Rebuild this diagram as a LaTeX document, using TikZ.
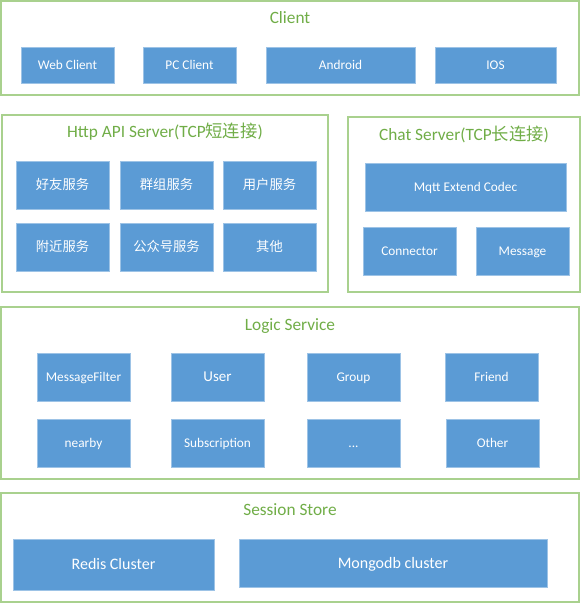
\documentclass[tikz,border=0pt]{standalone}
\usepackage{fontspec}
\setmainfont{Carlito}
\newfontfamily\cjk{Noto Sans CJK SC}
\usepackage{xcolor}
\definecolor{layerline}{HTML}{A9D18E}
\definecolor{layertext}{HTML}{70AD47}
\definecolor{boxfill}{HTML}{5B9BD5}
\definecolor{boxline}{HTML}{9DC3E6}

\tikzset{
  layer/.style={draw=layerline, line width=1.3pt, inner sep=0pt},
  layertitle/.style={text=layertext, font=\fontsize{17.3}{20}\selectfont, inner sep=0pt,
    text height=11.1pt, text depth=0pt},
  module/.style={draw=boxline, fill=boxfill, line width=0.6pt, text=white,
    inner sep=0pt, font=\fontsize{13.3}{16}\selectfont, text height=8.6pt, text depth=0pt},
}

\begin{document}
\begin{tikzpicture}[x=1pt, y=-1pt]
				\useasboundingbox (0,0) rectangle (582,604);
				
				% Client
				\node(client) at (290,48)[layer, minimum width=578, minimum height=94]{};
				\node(clienttitle) at (290,18.3)[layertitle]{Client};
				\node(web) at (67.5,65.3)[module, minimum width=93, minimum height=36]{Web Client};
				\node(pc) at (189.5,65.3)[module, minimum width=93, minimum height=36]{PC Client};
				\node(android) at (340.5,65.3)[module, minimum width=149, minimum height=36]{Android};
				\node(ios) at (495.5,65.3)[module, minimum width=121, minimum height=36]{IOS};
				
				% Http API Server
				\node(http) at (165,203.5)[layer, minimum width=326, minimum height=177]{};
				\node(httptitle) at (165,132.3)[layertitle]{Http API Server(TCP{\cjk 短连接})};
				\node(friendsvc) at (62.5,185)[module, minimum width=93, minimum height=48]{\cjk 好友服务};
				\node(groupsvc) at (166.5,185)[module, minimum width=93, minimum height=48]{\cjk 群组服务};
				\node(usersvc) at (269.5,185)[module, minimum width=93, minimum height=48]{\cjk 用户服务};
				\node(nearsvc) at (62.5,247)[module, minimum width=93, minimum height=48]{\cjk 附近服务};
				\node(pubsvc) at (166.5,247)[module, minimum width=93, minimum height=48]{\cjk 公众号服务};
				\node(othersvc) at (269.5,247)[module, minimum width=93, minimum height=48]{\cjk 其他};
				
				% Chat Server
				\node(chat) at (464,204.5)[layer, minimum width=232, minimum height=175]{};
				\node(chattitle) at (464,134.7)[layertitle]{Chat Server(TCP{\cjk 长连接})};
				\node(codec) at (465.5,187)[module, minimum width=201, minimum height=48]{Mqtt Extend Codec};
				\node(connector) at (409.5,251)[module, minimum width=93, minimum height=48]{Connector};
				\node(message) at (522.5,251)[module, minimum width=93, minimum height=48]{Message};
				
				% Logic Service
				\node(logic) at (290,393)[layer, minimum width=578, minimum height=172]{};
				\node(logictitle) at (290,324.7)[layertitle]{Logic Service};
				\node(filter) at (83.5,377)[module, minimum width=93, minimum height=48]{MessageFilter};
				\node(user) at (217.5,377)[module, minimum width=93, minimum height=48, font=\fontsize{15}{18}\selectfont, text height=9.7pt]{User};
				\node(group) at (353.5,377)[module, minimum width=93, minimum height=48]{Group};
				\node(friend) at (491.5,377)[module, minimum width=93, minimum height=48]{Friend};
				\node(nearby) at (83.5,443)[module, minimum width=93, minimum height=48]{nearby};
				\node(subscription) at (217.5,443)[module, minimum width=93, minimum height=48]{Subscription};
				\node(more) at (353.5,443)[module, minimum width=93, minimum height=48]{...};
				\node(other) at (492.5,443)[module, minimum width=93, minimum height=48]{Other};
				
				% Session Store
				\node(session) at (290,547.5)[layer, minimum width=578, minimum height=109]{};
				\node(sessiontitle) at (290,510.3)[layertitle]{Session Store};
				\node(redis) at (113.5,564.5)[module, minimum width=201, minimum height=51, font=\fontsize{16}{19}\selectfont, text height=10.3pt]{Redis Cluster};
				\node(mongo) at (393,563)[module, minimum width=308, minimum height=48, font=\fontsize{16}{19}\selectfont, text height=10.3pt]{Mongodb cluster};
			\end{tikzpicture}
\end{document}
